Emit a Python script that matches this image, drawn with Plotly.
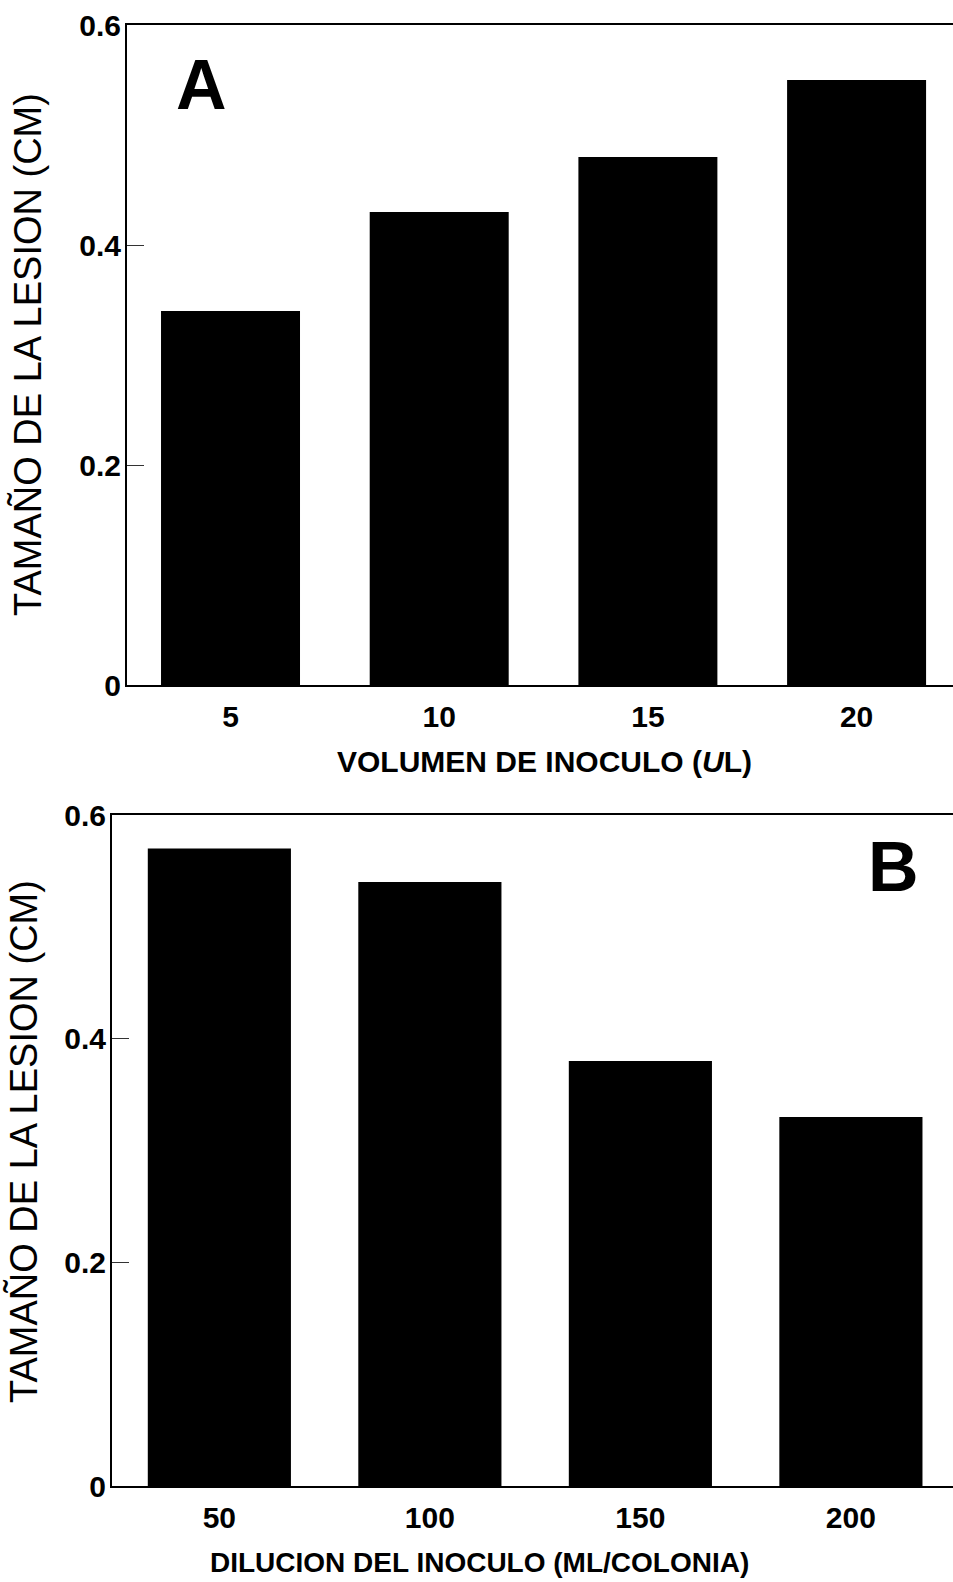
import plotly.graph_objects as go

W, H = 953, 1582

# Panel A data
cats_a = ["5", "10", "15", "20"]
vals_a = [0.34, 0.43, 0.48, 0.55]
# Panel B data
cats_b = ["50", "100", "150", "200"]
vals_b = [0.57, 0.54, 0.38, 0.33]

ytick_vals = [0, 0.2, 0.4, 0.6]
ytick_text = ["0", "0.2", "0.4", "0.6"]

ytitle = "TAMAÑO DE LA LESION (CM)"
xtitle_a = "VOLUMEN DE INOCULO (<i>U</i>L)"
xtitle_b = "DILUCION DEL INOCULO (ML/COLONIA)"

FONT = "Liberation Sans, Arial, Helvetica, sans-serif"

def px(x):
    return x / W

def py(y):
    return 1 - y / H

fig = go.Figure()
fig.add_trace(go.Bar(x=cats_a, y=vals_a, marker=dict(color="black", line=dict(width=0)),
                     width=0.666, xaxis="x", yaxis="y", showlegend=False))
fig.add_trace(go.Bar(x=cats_b, y=vals_b, marker=dict(color="black", line=dict(width=0)),
                     width=0.68, xaxis="x2", yaxis="y2", showlegend=False))

xcommon = dict(type="category", showline=True, linecolor="black", linewidth=2, mirror=True,
               ticks="", showgrid=False, zeroline=False, automargin=False,
               tickfont=dict(family=FONT, size=30, color="black", weight="bold"))
ycommon = dict(range=[0, 0.6], tickvals=ytick_vals, ticktext=ytick_text, showline=True,
               linecolor="black", linewidth=2, mirror=False, ticks="inside", ticklen=17,
               tickwidth=1, tickcolor="#333", showgrid=False, zeroline=False, automargin=False,
               tickfont=dict(family=FONT, size=30, color="black", weight="bold"))

fig.update_layout(
    template="none",
    width=W, height=H, margin=dict(l=0, r=0, t=0, b=0, pad=0, autoexpand=False),
    paper_bgcolor="white", plot_bgcolor="white",
    font=dict(family=FONT, color="black"),
    xaxis=dict(xcommon, domain=[px(127), 1], anchor="y", range=[-0.496, 3.462],
               ticklabelstandoff=4),
    yaxis=dict(ycommon, domain=[py(685), py(25)], anchor="x", ticklabelstandoff=-2),
    xaxis2=dict(xcommon, domain=[px(112), 1], anchor="y2", range=[-0.51, 3.485],
                ticklabelstandoff=4),
    yaxis2=dict(ycommon, domain=[py(1486), py(815)], anchor="x2", ticklabelstandoff=-2),
)

ann = [
    dict(text=ytitle, x=px(28), y=py(355), textangle=-90, font=dict(family=FONT, size=38)),
    dict(text=ytitle, x=px(24), y=py(1142), textangle=-90, font=dict(family=FONT, size=38)),
    dict(text=xtitle_a, x=px(544), y=py(761), font=dict(family=FONT, size=30, weight="bold")),
    dict(text=xtitle_b, x=px(479), y=py(1562), font=dict(family=FONT, size=28, weight="bold")),
    dict(text="A", x=px(201), y=py(85), font=dict(family=FONT, size=70, weight="bold")),
    dict(text="B", x=px(893), y=py(867), font=dict(family=FONT, size=70, weight="bold")),
]
for a in ann:
    a.update(xref="paper", yref="paper", showarrow=False, xanchor="center", yanchor="middle")
    a["font"].setdefault("color", "black")
fig.update_layout(annotations=ann)

fig.write_html(
    "out.html",
    config={"displayModeBar": False},
    post_script="document.body.style.margin='0';document.body.style.overflow='hidden';",
)
